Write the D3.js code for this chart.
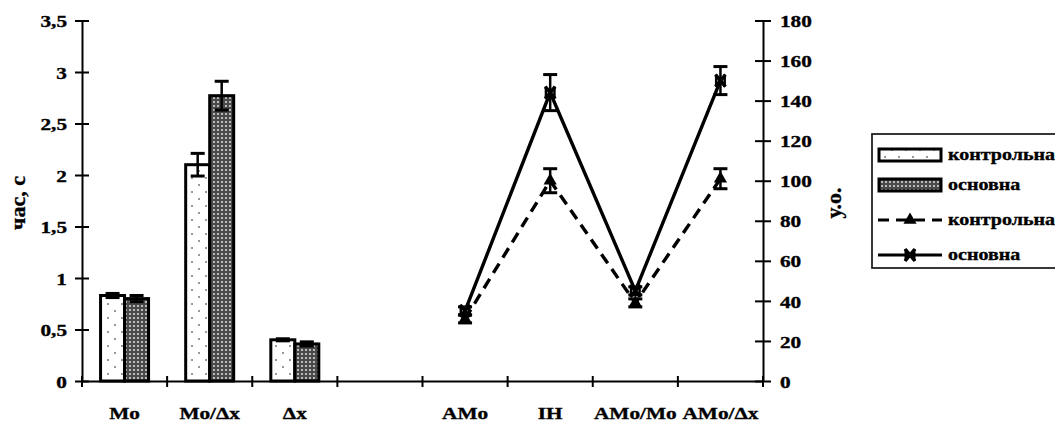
<!DOCTYPE html>
<html><head><meta charset="utf-8">
<script src="https://cdn.jsdelivr.net/npm/d3@7"></script>
<style>
body{margin:0;background:#fff}
svg text{font-family:"Liberation Serif","Times New Roman",serif;font-weight:bold;fill:#000;stroke:#000;stroke-width:0.35px}
</style>
</head><body>
<svg id="c" width="1055" height="426"></svg>
<script>
// ---- data ----
const categories = ["Mo", "Mo/Δx", "Δx", "", "AMo", "IH", "AMo/Mo", "AMo/Δx"];
const barCategories = ["Mo", "Mo/Δx", "Δx"];
const barControl = [0.83, 2.10, 0.40];
const barControlErr = [0.02, 0.11, 0.01];
const barMain = [0.80, 2.77, 0.36];
const barMainErr = [0.03, 0.14, 0.02];
const lineCategories = ["AMo", "IH", "AMo/Mo", "AMo/Δx"];
const lineControl = [31, 100, 39, 101];
const lineControlErr = [2, 6, 2, 5];
const lineMain = [35, 144, 45, 150];
const lineMainErr = [2, 9, 2, 7];
const leftTicks = [0, 0.5, 1, 1.5, 2, 2.5, 3, 3.5];
const leftTickLabels = ["0", "0,5", "1", "1,5", "2", "2,5", "3", "3,5"];
const rightTicks = [0, 20, 40, 60, 80, 100, 120, 140, 160, 180];
const rightTickLabels = ["0", "20", "40", "60", "80", "100", "120", "140", "160", "180"];
const leftTitle = "час, с";
const rightTitle = "у.о.";
const legendLabels = ["контрольна", "основна", "контрольна", "основна"];

// ---- layout ----
const svg = d3.select("#c");
const X0 = 82, X1 = 763, Y0 = 381, Y1 = 20.5;
const SX = 1.25; // horizontal text stretch
const x = d3.scaleBand().domain(categories).range([X0, X1]).padding(0);
const yL = d3.scaleLinear().domain([0, 3.5]).range([Y0, Y1]);
const yR = d3.scaleLinear().domain([0, 180]).range([Y0, Y1]);

// patterns
const defs = svg.append("defs");
const pc = defs.append("pattern").attr("id", "pCtrl").attr("patternUnits", "userSpaceOnUse")
  .attr("width", 14).attr("height", 14);
pc.append("rect").attr("width", 14).attr("height", 14).attr("fill", "#fff");
pc.append("circle").attr("cx", 3).attr("cy", 3).attr("r", 1).attr("fill", "#777");
pc.append("circle").attr("cx", 10).attr("cy", 10).attr("r", 1).attr("fill", "#777");
const pm = defs.append("pattern").attr("id", "pMain").attr("patternUnits", "userSpaceOnUse")
  .attr("width", 4).attr("height", 4);
pm.append("rect").attr("width", 4).attr("height", 4).attr("fill", "#4a4a4a");
pm.append("circle").attr("cx", 2).attr("cy", 2).attr("r", 1.05).attr("fill", "#d8d8d8");

function sText(g, tx, ty, str, size, anchor) {
  return g.append("text").attr("transform", `translate(${tx},${ty}) scale(${SX},1)`)
    .attr("text-anchor", anchor || "start").style("font-size", size + "px").text(str);
}

// ---- bars ----
const bw = 24;
const barG = svg.append("g");
barCategories.forEach((c, i) => {
  const cx = x(c) + x.bandwidth() / 2;
  barG.append("rect").attr("x", cx - bw).attr("y", yL(barControl[i])).attr("width", bw)
    .attr("height", Y0 - yL(barControl[i])).attr("fill", "url(#pCtrl)").attr("stroke", "#000").attr("stroke-width", 3);
  barG.append("rect").attr("x", cx).attr("y", yL(barMain[i])).attr("width", bw)
    .attr("height", Y0 - yL(barMain[i])).attr("fill", "url(#pMain)").attr("stroke", "#000").attr("stroke-width", 3);
  [[cx - bw / 2, barControl[i], barControlErr[i]], [cx + bw / 2, barMain[i], barMainErr[i]]].forEach(([ex, v, e]) => {
    const t = yL(v + e), b = yL(v - e);
    barG.append("line").attr("x1", ex).attr("x2", ex).attr("y1", t).attr("y2", b).attr("stroke", "#000").attr("stroke-width", 2.5);
    [t, b].forEach(yy => barG.append("line").attr("x1", ex - 7).attr("x2", ex + 7).attr("y1", yy).attr("y2", yy)
      .attr("stroke", "#000").attr("stroke-width", 3));
  });
});

// ---- lines ----
const lx = c => x(c) + x.bandwidth() / 2;
const lineGen = d3.line().x(d => lx(d.c)).y(d => yR(d.v));
const ctrlData = lineCategories.map((c, i) => ({ c, v: lineControl[i], e: lineControlErr[i] }));
const mainData = lineCategories.map((c, i) => ({ c, v: lineMain[i], e: lineMainErr[i] }));
const lg = svg.append("g");
lg.append("path").datum(ctrlData).attr("d", lineGen).attr("fill", "none").attr("stroke", "#000")
  .attr("stroke-width", 3.4).attr("stroke-dasharray", "11,7");
lg.append("path").datum(mainData).attr("d", lineGen).attr("fill", "none").attr("stroke", "#000")
  .attr("stroke-width", 3.4);
function errBars(data) {
  data.forEach(d => {
    const ex = lx(d.c), t = yR(d.v + d.e), b = yR(d.v - d.e);
    lg.append("line").attr("x1", ex).attr("x2", ex).attr("y1", t).attr("y2", b).attr("stroke", "#000").attr("stroke-width", 2.5);
    [t, b].forEach(yy => lg.append("line").attr("x1", ex - 7).attr("x2", ex + 7).attr("y1", yy).attr("y2", yy)
      .attr("stroke", "#000").attr("stroke-width", 3));
  });
}
errBars(ctrlData); errBars(mainData);
const tri = d3.symbol().type(d3.symbolTriangle).size(75);
function xMark(g, px, py) {
  g.append("path").attr("d", `M${px - 5},${py - 6}L${px + 5},${py + 6}M${px + 5},${py - 6}L${px - 5},${py + 6}`)
    .attr("stroke", "#000").attr("stroke-width", 3.5).attr("fill", "none");
  g.append("rect").attr("x", px - 5.5).attr("y", py - 6).attr("width", 2.5).attr("height", 12).attr("fill", "#000");
  g.append("rect").attr("x", px + 3).attr("y", py - 6).attr("width", 2.5).attr("height", 12).attr("fill", "#000");
}
ctrlData.forEach(d => lg.append("path").attr("d", tri).attr("transform", `translate(${lx(d.c)},${yR(d.v)})`).attr("fill", "#000"));
mainData.forEach(d => xMark(lg, lx(d.c), yR(d.v)));

// ---- axes ----
const axL = svg.append("g").attr("transform", `translate(${X0},0)`)
  .call(d3.axisLeft(yL).tickValues(leftTicks).tickFormat((d, i) => leftTickLabels[i]).tickSize(0).tickSizeOuter(0));
axL.select(".domain").attr("stroke", "#000").attr("stroke-width", 2);
axL.selectAll(".tick").append("line").attr("x1", -7).attr("x2", 7).attr("stroke", "#000").attr("stroke-width", 2);
axL.selectAll(".tick text").attr("x", null).attr("dy", "0.36em")
  .attr("transform", `translate(-15,0) scale(${SX},1)`).attr("text-anchor", "end")
  .style("font-size", "17px");
axL.attr("font-family", null).attr("font-size", null);

const axR = svg.append("g").attr("transform", `translate(${X1},0)`)
  .call(d3.axisRight(yR).tickValues(rightTicks).tickFormat((d, i) => rightTickLabels[i]).tickSize(0).tickSizeOuter(0));
axR.select(".domain").attr("stroke", "#000").attr("stroke-width", 2);
axR.selectAll(".tick").append("line").attr("x1", -8).attr("x2", 8).attr("stroke", "#000").attr("stroke-width", 2);
axR.selectAll(".tick text").attr("x", null).attr("dy", "0.36em")
  .attr("transform", `translate(17,0) scale(${SX},1)`).attr("text-anchor", "start")
  .style("font-size", "17px");
axR.attr("font-family", null).attr("font-size", null);

const axB = svg.append("g").attr("transform", `translate(0,${Y0})`)
  .call(d3.axisBottom(x).tickSize(0).tickSizeOuter(0).tickFormat(() => ""));
axB.select(".domain").attr("stroke", "#000").attr("stroke-width", 2);
axB.selectAll(".tick text").remove();
const bounds = categories.map(c => x(c)).concat([X1]);
axB.selectAll(".bt").data(bounds).enter().append("line")
  .attr("x1", d => d).attr("x2", d => d).attr("y1", -5).attr("y2", 6).attr("stroke", "#000").attr("stroke-width", 2);
categories.forEach(c => { if (c) sText(axB, x(c) + x.bandwidth() / 2, 38, c, 17, "middle"); });

// titles
svg.append("text").attr("transform", "translate(25,203) rotate(-90)").attr("text-anchor", "middle")
  .style("font-size", "22px").text(leftTitle);
svg.append("text").attr("transform", "translate(841,203) rotate(-90)").attr("text-anchor", "middle")
  .style("font-size", "22px").text(rightTitle);

// ---- legend ----
const leg = svg.append("g");
leg.append("rect").attr("x", 872).attr("y", 134).attr("width", 200).attr("height", 134)
  .attr("fill", "#fff").attr("stroke", "#222").attr("stroke-width", 1.8);
const rows = [155, 185, 220, 255];
leg.append("rect").attr("x", 879).attr("y", rows[0] - 6).attr("width", 62).attr("height", 12)
  .attr("fill", "url(#pCtrl)").attr("stroke", "#000").attr("stroke-width", 3);
leg.append("rect").attr("x", 879).attr("y", rows[1] - 6).attr("width", 62).attr("height", 12)
  .attr("fill", "url(#pMain)").attr("stroke", "#000").attr("stroke-width", 3);
leg.append("line").attr("x1", 878).attr("x2", 942).attr("y1", rows[2]).attr("y2", rows[2])
  .attr("stroke", "#000").attr("stroke-width", 3.2).attr("stroke-dasharray", "11,7");
leg.append("path").attr("d", tri).attr("transform", `translate(910,${rows[2]})`).attr("fill", "#000");
leg.append("line").attr("x1", 878).attr("x2", 942).attr("y1", rows[3]).attr("y2", rows[3])
  .attr("stroke", "#000").attr("stroke-width", 3.2);
xMark(leg, 910, rows[3]);
legendLabels.forEach((t, i) => sText(leg, 948, rows[i] + 5, t, 16, "start"));
</script>
</body></html>
